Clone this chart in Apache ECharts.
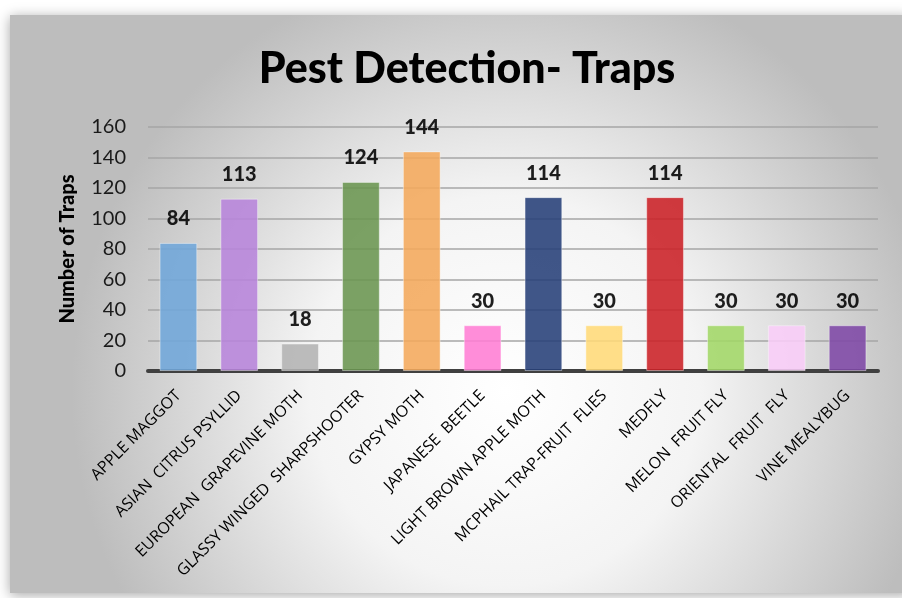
<!DOCTYPE html>
<html><head><meta charset="utf-8">
<script src="https://cdn.jsdelivr.net/npm/echarts@6/dist/echarts.min.js"></script>
<style>html,body{margin:0;padding:0;background:#fff;}#c{width:902px;height:598px;}</style>
</head><body><div id="c"></div>
<script>
const categories = ['APPLE MAGGOT','ASIAN  CITRUS PSYLLID','EUROPEAN  GRAPEVINE MOTH','GLASSY WINGED  SHARPSHOOTER','GYPSY MOTH','JAPANESE  BEETLE','LIGHT BROWN APPLE MOTH','MCPHAIL TRAP-FRUIT  FLIES','MEDFLY','MELON  FRUIT FLY','ORIENTAL  FRUIT  FLY','VINE MEALYBUG'];
const values = [84,113,18,124,144,30,114,30,114,30,30,30];
const colors = ['#6FA6DA','#B784DB','#B3B3B3','#6A9550','#F4A85B','#FF7DD4','#263F78','#FFD978','#CB2026','#A2D767','#F9CDF8','#7E48A6'];
const yTicks = [0,20,40,60,80,100,120,140,160];

const chart = echarts.init(document.getElementById('c'));
chart.setOption({
  textStyle:{fontFamily:'Lato'},
  graphic:[{
    type:'rect', z:-10, silent:true,
    shape:{x:10,y:15,width:900,height:578},
    style:{
      fill:{type:'radial',x:0.55,y:0.65,r:0.75,colorStops:[{offset:0,color:'#ffffff'},{offset:0.45,color:'#f4f4f4'},{offset:1,color:'#bdbdbd'}]},
      shadowBlur:12, shadowColor:'rgba(0,0,0,0.35)', shadowOffsetX:0, shadowOffsetY:2
    }
  }],
  title:{
    text:'Pest Detection- Traps', left:462, top:43, textAlign:'center',
    textStyle:{fontFamily:'Lato',fontWeight:900,fontSize:43,color:'#000'}
  },
  grid:{left:148,right:24,top:127,bottom:227},
  xAxis:{
    type:'category', data:categories,
    axisLine:{lineStyle:{color:'#404040',width:4}},
    axisTick:{show:false},
    axisLabel:{rotate:45,interval:0,fontSize:16,color:'#000',margin:22,fontFamily:'Open Sans'}
  },
  yAxis:{
    type:'value', min:0, max:160, interval:20,
    name:'Number of Traps', nameLocation:'middle', nameGap:70, nameRotate:90,
    nameTextStyle:{fontSize:20,fontWeight:900,color:'#000',fontFamily:'Lato'},
    axisLine:{show:false}, axisTick:{show:false},
    axisLabel:{fontSize:20,color:'#1a1a1a',margin:22,fontFamily:'Lato',
      formatter:v=>yTicks.includes(v)?String(v):''},
    splitLine:{lineStyle:{color:'#a6a6a6',width:1.5}}
  },
  series:[{
    type:'bar', barWidth:'62%',
    data:values.map((v,i)=>({value:v,itemStyle:{color:colors[i]}})),
    itemStyle:{opacity:0.88,borderColor:'rgba(255,255,255,0.45)',borderWidth:1},
    label:{show:true,position:'top',distance:14,fontSize:20,fontWeight:900,color:'#000',fontFamily:'Lato'}
  }]
});
</script></body></html>
